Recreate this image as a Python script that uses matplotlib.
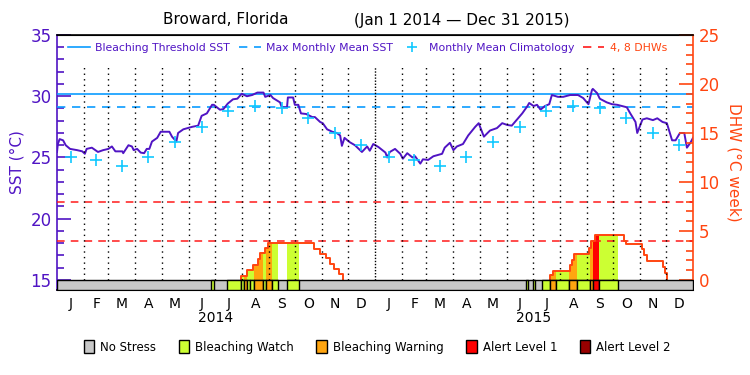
import matplotlib.pyplot as plt
import numpy as np
from matplotlib.lines import Line2D
from matplotlib.patches import Patch
from matplotlib.ticker import FixedLocator

# days since 2014-01-01 and SST (deg C)
sst_days = [0, 1, 3, 7, 10, 15, 23, 29, 32, 34, 40, 47, 53, 59, 63, 67, 75, 76, 82, 86,
            88, 92, 96, 100, 103, 106, 109, 115, 119, 129, 132, 137, 139, 145, 155, 162, 166, 172, 178, 180,
            187, 191, 196, 202, 207, 212, 218, 224, 230, 237, 239, 245, 248, 256, 258, 264, 265, 271, 273, 277,
            280, 286, 293, 296, 302, 305, 310, 316, 321, 325, 327, 330, 336, 342, 350, 356, 359, 363, 369, 377,
            379, 382, 388, 394, 397, 402, 408, 411, 417, 420, 426, 432, 442, 445, 451, 455, 459, 466, 472, 480,
            484, 490, 497, 505, 511, 517, 522, 528, 534, 540, 542, 547, 551, 555, 560, 565, 568, 575, 581, 589,
            598, 604, 610, 614, 615, 620, 623, 631, 637, 643, 654, 658, 664, 666, 672, 677, 684, 689, 695, 700,
            706, 710, 715, 720, 723, 727, 730]
sst_vals = [25.45, 26.1, 26.5, 26.4, 26.0, 25.7, 25.6, 25.5, 25.3, 25.7, 25.8, 25.45, 25.6, 25.7, 25.9, 25.5, 25.5, 25.35, 26.0, 25.9,
            25.6, 25.7, 25.4, 25.35, 25.7, 25.7, 26.3, 26.6, 27.1, 27.1, 26.7, 26.3, 27.0, 27.3, 27.5, 27.6, 28.4, 28.6, 29.3, 29.3,
            28.9, 28.95, 29.4, 29.75, 29.8, 30.2, 30.0, 30.1, 30.3, 30.3, 29.95, 30.1, 29.85, 29.5, 29.1, 29.1, 29.9, 29.9, 29.3, 29.3,
            28.6, 28.55, 28.3, 28.3, 27.9, 27.8, 27.3, 27.1, 27.0, 26.8, 25.95, 26.6, 26.25, 26.0, 25.45, 25.9, 25.55, 26.1, 25.85, 25.4,
            25.0, 25.45, 25.7, 25.3, 24.9, 25.35, 25.0, 25.1, 24.5, 24.85, 24.8, 25.1, 25.3, 25.8, 26.2, 25.6, 25.9, 26.1, 26.8, 27.5,
            27.8, 26.7, 27.2, 27.4, 27.8, 27.65, 27.6, 28.1, 28.6, 29.2, 29.45, 29.2, 29.3, 28.9, 29.2, 29.35, 30.1, 29.95, 29.95, 30.1,
            30.1, 29.85, 29.35, 30.5, 30.6, 30.25, 29.8, 29.5, 29.35, 29.3, 29.1, 28.6, 27.9, 27.0, 28.1, 28.2, 28.05, 28.2, 27.9, 27.8,
            26.4, 26.4, 27.0, 27.0, 25.8, 26.2, 26.6]

# monthly mean climatology (Jan..Dec), same for both years
clim_vals = [25.0, 24.8, 24.3, 25.0, 26.3, 27.5, 28.8, 29.2, 29.0, 28.2, 27.0, 26.0]
mmm = 29.15
threshold = 30.15
dhw_levels = [4, 8]

# degree heating weeks, step values
dhw14_days = [211, 211, 218, 225, 231, 233, 239, 242, 295, 302, 309, 313, 318, 324, 328]
dhw14_vals = [0, 0.45, 1.0, 1.5, 2.1, 2.75, 3.25, 3.8, 3.2, 2.7, 2.2, 1.6, 1.1, 0.6, 0]
dhw15_days = [566, 566, 569, 589, 591, 593, 611, 613, 617, 651, 653, 671, 674, 677, 696, 698, 700]
dhw15_vals = [0, 0.5, 0.95, 1.5, 2.05, 2.65, 3.3, 4.0, 4.55, 4.0, 3.7, 3.2, 2.5, 1.95, 1.3, 0.75, 0]

# stress level periods (0 none, 1 watch, 2 warning, 3 alert 1, 4 alert 2)
stress_start = [177, 195, 211, 215, 218, 222, 226, 237, 240, 247, 264, 538, 546, 557, 566, 573, 588, 597, 612, 615, 622]
stress_end = [180, 211, 215, 218, 222, 226, 237, 240, 247, 254, 278, 541, 549, 566, 573, 588, 597, 612, 615, 622, 644]
stress_level = [1, 1, 1, 2, 1, 1, 2, 1, 2, 1, 1, 1, 1, 1, 2, 1, 2, 1, 2, 3, 1]

stress_names = ["No Stress", "Bleaching Watch", "Bleaching Warning", "Alert Level 1", "Alert Level 2"]
stress_colors = ["#c8c8c8", "#ccff33", "#ffa510", "#ff0000", "#990000"]

month_letters = ["J", "F", "M", "A", "M", "J", "J", "A", "S", "O", "N", "D"]
years = ["2014", "2015"]

purple = "#5014c4"
orange = "#ff4510"
cyan = "#0a9cff"
plus_cyan = "#10c8ff"

t0 = np.datetime64("2014-01-01")
m_start = (np.arange("2014-01", "2016-01", dtype="datetime64[M]").astype("datetime64[D]") - t0).astype(int)
m_end = (np.arange("2014-02", "2016-02", dtype="datetime64[M]").astype("datetime64[D]") - t0).astype(int)
m_mid = (m_start + m_end) / 2
n_days = int(m_end[-1])

# SST / DHW scales: 15 C <-> 0 DHW, 35 C <-> 25 DHW
sst_lo = 14.18
dhw_lo = (sst_lo - 15) * 1.25


def step_eval(days, ev_days, ev_vals):
    ev_days = np.asarray(ev_days)
    ev_vals = np.asarray(ev_vals)
    idx = np.searchsorted(ev_days, days, side="right") - 1
    out = np.where(idx >= 0, ev_vals[np.clip(idx, 0, None)], 0.0)
    out[(days < ev_days[0]) | (days >= ev_days[-1])] = 0.0
    return out


fig = plt.figure(figsize=(7.5, 3.75), dpi=100)
ax1 = fig.add_axes([57 / 750, 85 / 375, 636 / 750, 255 / 375])
ax2 = ax1.twinx()

# SST side
ax1.axhline(threshold, color=cyan, lw=1.2, zorder=3)
ax1.axhline(mmm, color=cyan, lw=1.2, ls=(0, (5, 4)), zorder=3)
ax1.plot(sst_days, sst_vals, color=purple, lw=1.4, zorder=4)
ax1.plot(m_mid, clim_vals * 2, ls="none", marker="+", ms=9, mew=1.2, color=plus_cyan, zorder=5)
ax1.set_xlim(0, n_days)
ax1.set_ylim(sst_lo, 35)

# DHW side
ax2.set_ylim(dhw_lo, 25)
for lvl in dhw_levels:
    ax2.axhline(lvl, color="#ff1a1a", lw=1.1, ls=(0, (5, 4)), zorder=2)

all_days = np.arange(0, n_days + 1)
dhw_daily = step_eval(all_days, dhw14_days, dhw14_vals) + step_eval(all_days, dhw15_days, dhw15_vals)

for s, e, lvl in zip(stress_start, stress_end, stress_level):
    d = all_days[s:e + 1]
    ax2.fill_between(d, 0, dhw_daily[s:e + 1], step="post", color=stress_colors[lvl], lw=0, zorder=1)

ax2.plot(dhw14_days, dhw14_vals, drawstyle="steps-post", color=orange, lw=1.4, zorder=3)
ax2.plot(dhw15_days, dhw15_vals, drawstyle="steps-post", color=orange, lw=1.4, zorder=3)

# stress bar along the bottom
ax2.broken_barh([(0, n_days)], (dhw_lo, -dhw_lo), facecolors=stress_colors[0],
                edgecolors="black", lw=1, zorder=4)
for s, e, lvl in zip(stress_start, stress_end, stress_level):
    ax2.broken_barh([(s, e - s)], (dhw_lo, -dhw_lo), facecolors=stress_colors[lvl],
                    edgecolors="black", lw=1, zorder=5)

# month separators
top_dhw = (32.4 - 15) * 1.25
for i, x in enumerate(m_start[1:], start=1):
    style = (0, (1, 1.2)) if i == 12 else (0, (1, 3))
    ax2.vlines(x, 0, top_dhw, colors="black", lw=1, linestyles=[style], zorder=6)

# axes cosmetics
ax1.set_xticks(m_mid, month_letters * 2)
ax1.tick_params(axis="x", length=0, pad=5, labelsize=10)
for i, yr in enumerate(years):
    ax1.annotate(yr, xy=((m_start[12 * i] + m_end[12 * i + 11]) / 2, 0), xycoords=("data", "axes fraction"),
                 xytext=(0, -20), textcoords="offset points", ha="center", va="center", fontsize=10)

ax1.set_yticks([15, 20, 25, 30, 35])
ax1.yaxis.set_minor_locator(FixedLocator(np.arange(15, 36, 1)))
ax1.tick_params(axis="y", which="both", direction="in", color=purple, labelcolor=purple, labelsize=12, pad=4)
ax1.tick_params(axis="y", which="major", length=10, width=1.2)
ax1.tick_params(axis="y", which="minor", length=5, width=1.2)
ax1.set_ylabel("SST (\u00b0C)", color=purple, fontsize=11, labelpad=4)

ax2.set_yticks([0, 5, 10, 15, 20, 25])
ax2.yaxis.set_minor_locator(FixedLocator(np.arange(0, 26, 1)))
ax2.tick_params(axis="y", which="both", direction="in", color=orange, labelcolor=orange, labelsize=12, pad=4)
ax2.tick_params(axis="y", which="major", length=10, width=1.2)
ax2.tick_params(axis="y", which="minor", length=5, width=1.2)
ax2.set_ylabel("DHW (\u00b0C week)", color=orange, fontsize=11, rotation=270, labelpad=16)

ax1.spines["left"].set_color(purple)
ax1.spines["left"].set_linewidth(1.2)
ax2.spines["right"].set_color(orange)
ax2.spines["right"].set_linewidth(1.2)
ax2.spines["left"].set_visible(False)
ax1.spines["right"].set_visible(False)
for sp in ("top", "bottom"):
    ax2.spines[sp].set_linewidth(1.2)

# legend inside the plot
handles = [
    Line2D([], [], color=cyan, lw=1.2),
    Line2D([], [], color=cyan, lw=1.2, ls=(0, (5, 4))),
    Line2D([], [], color=plus_cyan, ls="none", marker="+", ms=7, mew=1.2),
    Line2D([], [], color="#ff1a1a", lw=1.2, ls=(0, (5, 4))),
]
labels = ["Bleaching Threshold SST", "Max Monthly Mean SST", "Monthly Mean Climatology", "4, 8 DHWs"]
leg = ax2.legend(handles, labels, loc="upper left", bbox_to_anchor=(0.006, 1.0), ncol=4, frameon=False,
                 fontsize=7.8, handlelength=2.0, handletextpad=0.5, columnspacing=0.8, borderaxespad=0.3)
for txt, c in zip(leg.get_texts(), [purple, purple, purple, orange]):
    txt.set_color(c)

# stress legend below
patches = [Patch(facecolor=c, edgecolor="black", lw=1) for c in stress_colors]
fig.legend(patches, stress_names, loc="center", bbox_to_anchor=(0.503, 1 - 347 / 375), ncol=5, frameon=False,
           fontsize=8.5, handlelength=0.9, handleheight=1.2, handletextpad=0.5, columnspacing=1.9)

fig.text(226 / 750, 1 - 20 / 375, "Broward, Florida", ha="center", va="center", fontsize=11)
fig.text(462 / 750, 1 - 20 / 375, "(Jan 1 2014 \u2014 Dec 31 2015)", ha="center", va="center", fontsize=11)

fig.savefig("out.png", dpi=100)
